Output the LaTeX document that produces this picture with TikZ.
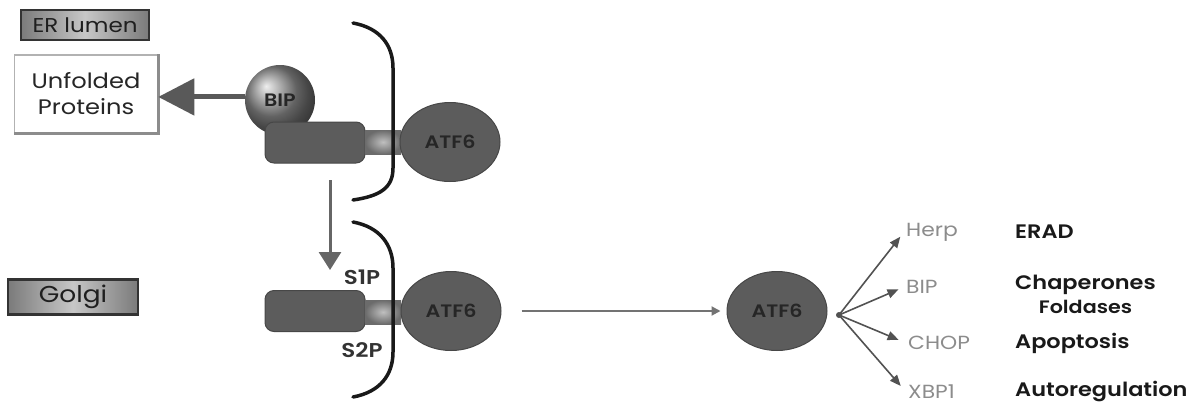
\documentclass[tikz,border=0pt]{standalone}
\usepackage{fontspec}
\setmainfont{Poppins}[FakeStretch=1.15, BoldFont={Poppins SemiBold}, BoldFeatures={FakeStretch=1.15}]
\usetikzlibrary{shapes.geometric,arrows.meta}
\begin{document}
\begin{tikzpicture}[x=1pt,y=-1pt,
 labbox/.style={draw=black!80, line width=2.5pt, left color=black!52, right color=black!52, middle color=black!22, inner sep=0pt, text=black!88},
 prot/.style={fill=black!64, draw=black!72, line width=1pt},
 atf/.style={ellipse, prot, minimum width=100pt, minimum height=79pt, inner sep=0pt, font=\bfseries\fontsize{18}{18}\selectfont, text=black!85},
 dom/.style={rectangle, rounded corners=9pt, prot, minimum width=100pt, minimum height=41pt, inner sep=0pt},
 stalk/.style={rectangle, inner color=black!25, outer color=black!58, minimum width=36pt, minimum height=24pt, inner sep=0pt},
 memb/.style={line width=3.5pt, black!90, line cap=round},
 gene/.style={anchor=west, inner sep=2pt, text=black!45, font=\fontsize{19}{19}\selectfont},
 func/.style={anchor=west, inner sep=0pt, text=black!90, font=\bfseries\fontsize{19.5}{19.5}\selectfont},
 fanarrow/.style={draw=black!68, line width=1.6pt, -{Triangle[length=11pt,width=9pt]}},
 plab/.style={font=\bfseries\fontsize{20}{20}\selectfont, text=black!80, inner sep=0pt},
]
\useasboundingbox (0,0) rectangle (1193,407);

% location boxes
\node[labbox, minimum width=128pt, minimum height=30pt, font=\fontsize{20}{20}\selectfont] (er) at (85,25) {ER lumen};
\node[labbox, minimum width=130pt, minimum height=35pt, font=\fontsize{23}{23}\selectfont] (golgi) at (73,297) {Golgi};

% unfolded proteins
\node[draw=black!30, line width=1.5pt, fill=white, minimum width=143pt, minimum height=78pt, align=center, inner sep=0pt, font=\fontsize{21}{26}\selectfont, text=black!85] (unf) at (86,94) {Unfolded\\Proteins};
\draw[black!45, line width=3pt] (unf.north east) -- (unf.south east) -- (unf.south west);

% upper complex
\node[circle, ball color=black!45, minimum size=70pt, inner sep=0pt, font=\bfseries\fontsize{18}{18}\selectfont, text=black!85] (bip) at (280,100) {BIP};
\node[dom] (d1) at (315,142.5) {};
\node[stalk] (s1) at (383,142) {};
\draw[memb] (353,23) .. controls (380,28) and (393,45) .. (393,68) -- (393,168) .. controls (393,188) and (380,196) .. (353,200);
\node[atf] (a1) at (450,142) {ATF6};

% arrow to unfolded proteins
\draw[line width=5pt, black!65, -{Triangle[length=36pt,width=36pt]}] (bip.175) -- (unf.east |- bip.175);

% down arrow
\coordinate (dstart) at (330,180);
\coordinate (dend) at (330,270);
\draw[line width=3pt, black!60, -{Triangle[length=18pt,width=22pt]}] (dstart) -- (dend);

% lower complex
\node[dom] (d2) at (315,311) {};
\node[stalk] (s2) at (383,312) {};
\draw[memb] (353,222) .. controls (380,227) and (393,245) .. (393,268) -- (393,352) .. controls (393,375) and (380,392) .. (353,397);
\node[atf] (a2) at (451,311) {ATF6};
\node[plab] (s1p) at (362,277) {S1P};
\node[plab] (s2p) at (362,350) {S2P};

% released ATF6
\node[atf] (a3) at (777,311) {ATF6};
\draw[line width=2pt, black!55, -{Triangle[length=9pt,width=9pt]}, shorten <=20pt, shorten >=6pt] (a2.east) -- (a3.west);

% targets
\coordinate (hub) at (839,315);
\node[gene] (herp) at (904,232) {Herp};
\node[gene] (bipg) at (904,287) {BIP};
\node[gene] (chop) at (906,343) {CHOP};
\node[gene] (xbp) at (906,392) {XBP1};
\draw[fanarrow, shorten >=6pt] (hub) -- (herp.west);
\draw[fanarrow, shorten >=6pt] (hub) -- (bipg.west);
\draw[fanarrow, shorten >=8pt] (hub) -- (chop.west);
\draw[fanarrow, shorten >=8pt] (hub) -- (xbp.west);
\fill[black!68] (hub) circle (3pt);

\node[func] (erad) at (1015,232) {ERAD};
\node[func] (chap) at (1015,285) {Chaperones};
\node[func, anchor=center, font=\bfseries\fontsize{18}{18}\selectfont] (fold) at (chap.south |- 0,307) {Foldases};
\node[func] (apop) at (1015,343) {Apoptosis};
\node[func] (auto) at (1015,392) {Autoregulation};
\end{tikzpicture}
\end{document}
